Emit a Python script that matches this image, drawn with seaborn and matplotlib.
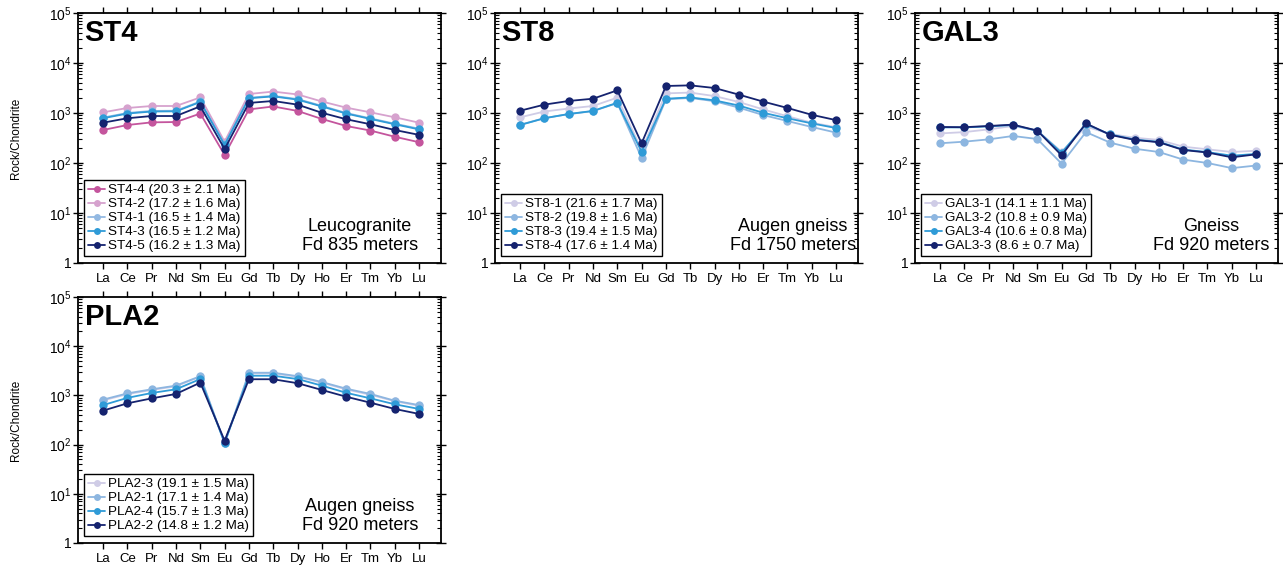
import numpy as np
import pandas as pd
import seaborn as sns
import matplotlib.pyplot as plt
from matplotlib.ticker import LogLocator, FixedLocator

elements = ['La', 'Ce', 'Pr', 'Nd', 'Sm', 'Eu', 'Gd', 'Tb', 'Dy', 'Ho', 'Er', 'Tm', 'Yb', 'Lu']

# ST4 - Leucogranite
st4_names = ['ST4-4 (20.3 ± 2.1 Ma)', 'ST4-2 (17.2 ± 1.6 Ma)', 'ST4-1 (16.5 ± 1.4 Ma)',
             'ST4-3 (16.5 ± 1.2 Ma)', 'ST4-5 (16.2 ± 1.3 Ma)']
st4_4 = [457, 575, 650, 660, 975, 145, 1180, 1350, 1100, 760, 550, 445, 335, 260]
st4_2 = [1030, 1260, 1380, 1380, 2050, 267, 2400, 2680, 2350, 1700, 1280, 1030, 820, 640]
st4_1 = [810, 1000, 1100, 1110, 1700, 240, 2020, 2200, 1900, 1390, 1000, 780, 610, 485]
st4_3 = [785, 975, 1070, 1080, 1660, 230, 1970, 2150, 1850, 1350, 975, 760, 595, 470]
st4_5 = [640, 785, 870, 870, 1360, 190, 1590, 1740, 1470, 1010, 750, 595, 457, 365]

# ST8 - Augen gneiss
st8_names = ['ST8-1 (21.6 ± 1.7 Ma)', 'ST8-2 (19.8 ± 1.6 Ma)', 'ST8-3 (19.4 ± 1.5 Ma)',
             'ST8-4 (17.6 ± 1.4 Ma)']
st8_1 = [820, 1070, 1230, 1380, 2030, 182, 2470, 2560, 2180, 1660, 1180, 860, 640, 520]
st8_2 = [580, 790, 950, 1090, 1580, 126, 1880, 2000, 1720, 1280, 910, 690, 525, 405]
st8_3 = [575, 785, 955, 1100, 1600, 168, 1930, 2050, 1790, 1410, 1010, 785, 620, 500]
st8_4 = [1110, 1470, 1740, 1930, 2840, 248, 3470, 3570, 3160, 2330, 1690, 1260, 920, 720]

# GAL3 - Gneiss
gal3_names = ['GAL3-1 (14.1 ± 1.1 Ma)', 'GAL3-2 (10.8 ± 0.9 Ma)', 'GAL3-4 (10.6 ± 0.8 Ma)',
              'GAL3-3 (8.6 ± 0.7 Ma)']
gal3_1 = [390, 415, 470, 550, 445, 168, 535, 380, 320, 290, 212, 188, 166, 176]
gal3_2 = [248, 267, 297, 347, 302, 97, 415, 255, 193, 166, 117, 100, 79, 89]
gal3_4 = [515, 515, 540, 575, 440, 160, 600, 372, 295, 265, 186, 165, 140, 152]
gal3_3 = [525, 520, 550, 585, 445, 142, 620, 365, 290, 260, 182, 162, 130, 149]

# PLA2 - Augen gneiss
pla2_names = ['PLA2-3 (19.1 ± 1.5 Ma)', 'PLA2-1 (17.1 ± 1.4 Ma)', 'PLA2-4 (15.7 ± 1.3 Ma)',
              'PLA2-2 (14.8 ± 1.2 Ma)']
pla2_3 = [790, 1060, 1290, 1530, 2400, 108, 2800, 2800, 2380, 1810, 1320, 1030, 760, 615]
pla2_1 = [820, 1100, 1330, 1580, 2460, 106, 2890, 2890, 2460, 1870, 1370, 1070, 780, 635]
pla2_4 = [635, 890, 1120, 1330, 2150, 109, 2510, 2510, 2150, 1580, 1130, 870, 660, 530]
pla2_2 = [490, 690, 870, 1070, 1820, 120, 2130, 2130, 1770, 1290, 940, 710, 530, 420]

pink = ['#C4559D', '#D6A2CE', '#93B9E2', '#2F9BD7', '#15236F']
blues = ['#CFCCE6', '#8DB6E0', '#2F9BD7', '#15236F']

panels = [
    ('ST4', st4_names, [st4_4, st4_2, st4_1, st4_3, st4_5], pink,
     'Leucogranite\nFd 835 meters', 0.777, [78, 13, 441, 263]),
    ('ST8', st8_names, [st8_1, st8_2, st8_3, st8_4], blues,
     'Augen gneiss\nFd 1750 meters', 0.82, [495, 13, 858, 263]),
    ('GAL3', gal3_names, [gal3_1, gal3_2, gal3_4, gal3_3], blues,
     'Gneiss\nFd 920 meters', 0.815, [915, 13, 1278, 263]),
    ('PLA2', pla2_names, [pla2_3, pla2_1, pla2_4, pla2_2], blues,
     'Augen gneiss\nFd 920 meters', 0.777, [78, 297, 441, 543]),
]

sns.set_style('ticks')
plt.rcParams['font.family'] = ['Liberation Sans', 'DejaVu Sans']
plt.rcParams['mathtext.fontset'] = 'custom'
plt.rcParams['mathtext.rm'] = 'Liberation Sans'
plt.rcParams['mathtext.it'] = 'Liberation Sans'
for key in ['text.color', 'axes.labelcolor', 'xtick.color', 'ytick.color', 'axes.edgecolor']:
    plt.rcParams[key] = 'black'

W, H = 1283, 565
fig = plt.figure(figsize=(W / 100, H / 100), dpi=100)

for title, names, series, colors, note, note_x, box in panels:
    x0, y0, x1, y1 = box
    ax = fig.add_axes([x0 / W, 1 - y1 / H, (x1 - x0) / W, (y1 - y0) / H])

    df = pd.DataFrame({
        'element': elements * len(names),
        'value': np.concatenate(series),
        'sample': np.repeat(names, len(elements)),
    })
    sns.lineplot(data=df, x='element', y='value', hue='sample', hue_order=names,
                 palette=colors, marker='o', markersize=6, markeredgewidth=0,
                 linewidth=1.3, sort=False, ax=ax)

    ax.set_yscale('log')
    ax.set_ylim(1, 1e5)
    ax.set_xlim(-1.03, 13.9)
    ax.yaxis.set_major_locator(FixedLocator([1, 10, 100, 1e3, 1e4, 1e5]))
    ax.set_yticklabels(['1', '$10^1$', '$10^2$', '$10^3$', '$10^4$', '$10^5$'])
    ax.yaxis.set_minor_locator(LogLocator(base=10, subs=np.arange(2, 10), numticks=20))

    ax.tick_params(axis='y', which='major', direction='inout', length=7, width=1,
                   left=True, right=True, labelsize=10, pad=1)
    ax.tick_params(axis='y', which='minor', direction='in', length=3, width=0.8,
                   left=True, right=True)
    ax.tick_params(axis='x', which='major', direction='out', length=4, width=1,
                   top=True, bottom=True, labelsize=9.5, pad=3)
    for s in ax.spines.values():
        s.set_linewidth(1.3)
        s.set_color('black')

    ax.set_xlabel('')
    if title in ('ST4', 'PLA2'):
        ax.set_ylabel('Rock/Chondrite', fontsize=8.5)
        ax.yaxis.set_label_coords(-0.155, 0.5)
    else:
        ax.set_ylabel('')

    ax.text(0.018, 0.975, title, transform=ax.transAxes, fontsize=21,
            fontweight='bold', va='top', ha='left')
    ax.text(note_x, 0.035, note, transform=ax.transAxes, fontsize=13,
            va='bottom', ha='center', linespacing=1.15)

    leg = ax.legend(loc='lower left', bbox_to_anchor=(0.005, 0.01), fontsize=9.7,
                    frameon=True, fancybox=False, edgecolor='black', framealpha=1,
                    handlelength=1.3, handletextpad=0.2, labelspacing=0.12,
                    borderpad=0.3, borderaxespad=0.3, title=None)
    leg.get_frame().set_linewidth(1.0)
    for text in leg.get_texts():
        text.set_color('black')
    for h in leg.legend_handles:
        h.set_markersize(5)

fig.savefig('out.png', dpi=100)
